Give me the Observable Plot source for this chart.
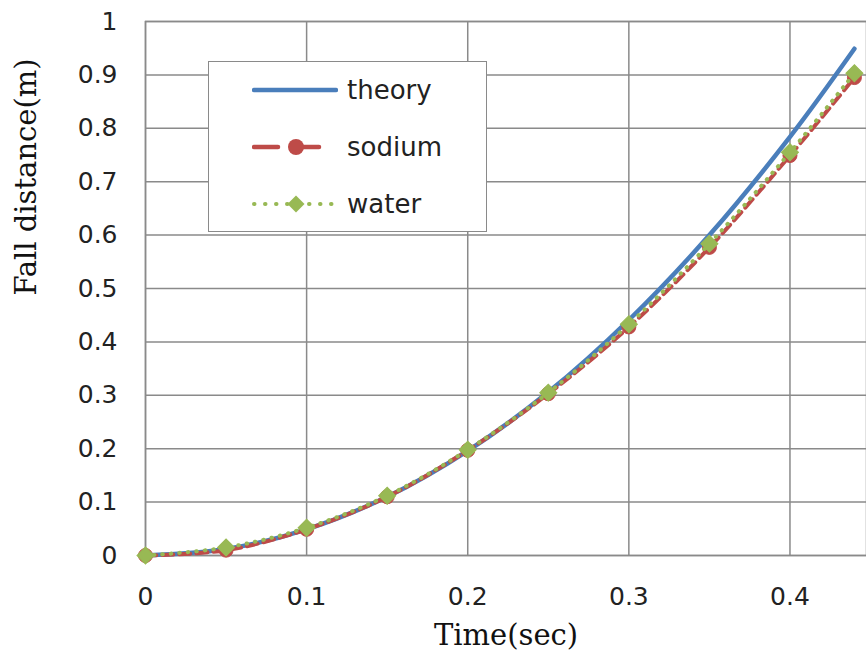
<!DOCTYPE html>
<html>
<head>
<meta charset="utf-8">
<script src="https://cdn.jsdelivr.net/npm/d3@7"></script>
<script src="https://cdn.jsdelivr.net/npm/@observablehq/plot@0.6"></script>
<style>
  html, body { margin: 0; padding: 0; background: #fff; overflow: hidden; }
  #wrap { position: relative; width: 866px; height: 665px; }
  #legend {
    position: absolute; left: 208px; top: 61px; width: 277px; height: 169px;
    background: #fff; border: 1.5px solid #8a8a8a;
    font-family: "DejaVu Sans", sans-serif; font-size: 26px; color: #222;
  }
  #legend .row { position: absolute; left: 0; height: 40px; display: flex; align-items: center; }
  #legend svg { margin-left: 43px; margin-right: 9px; }
</style>
</head>
<body>
<div id="wrap"><div id="chart"></div><div id="legend"></div></div>
<script>
// ---- data ----
const times  = [0, 0.05, 0.1, 0.15, 0.2, 0.25, 0.3, 0.35, 0.4, 0.44];
const theory = [0, 0.012, 0.049, 0.110, 0.196, 0.306, 0.441, 0.600, 0.784, 0.949];
const sodium = [0, 0.010, 0.049, 0.110, 0.197, 0.303, 0.428, 0.577, 0.749, 0.895];
const water  = [0, 0.015, 0.052, 0.112, 0.198, 0.305, 0.433, 0.584, 0.755, 0.903];
const seriesNames = ["theory", "sodium", "water"];
const xTicks = [0, 0.1, 0.2, 0.3, 0.4];
const yTicks = [0, 0.1, 0.2, 0.3, 0.4, 0.5, 0.6, 0.7, 0.8, 0.9, 1];
const xTitle = "Time(sec)";
const yTitle = "Fall distance(m)";

const colors = { theory: "#4A7EBB", sodium: "#BE4B48", water: "#98B954" };

const rows = (vals) => times.map((t, i) => ({ t, v: vals[i] }));
const theoryData = rows(theory);
const sodiumData = rows(sodium);
const waterData = rows(water);

const serif = "'DejaVu Serif', 'Liberation Serif', serif";

const chart = Plot.plot({
  width: 866,
  height: 665,
  marginTop: 21,
  marginLeft: 145,
  marginRight: 0,
  marginBottom: 110,
  style: { fontFamily: "'DejaVu Sans', sans-serif", fontSize: "25px", color: "#222", background: "#fff", overflow: "visible" },
  x: { domain: [0, 0.4475] },
  y: { domain: [0, 1] },
  marks: [
    Plot.gridX(xTicks, { stroke: "#8a8a8a", strokeOpacity: 1, strokeWidth: 1.5 }),
    Plot.gridY(yTicks, { stroke: "#8a8a8a", strokeOpacity: 1, strokeWidth: 1.5 }),
    Plot.frame({ stroke: "#8a8a8a", strokeWidth: 1.5 }),
    Plot.axisX({ ticks: xTicks, tickSize: 0, tickPadding: 32, label: null, tickFormat: d => String(d) }),
    Plot.axisY({ ticks: yTicks, tickSize: 0, tickPadding: 28, label: null, tickFormat: d => String(d) }),
    Plot.text([xTitle], { frameAnchor: "bottom", dy: 89, fontFamily: serif, fontSize: 29, fill: "#111", text: d => d }),
    Plot.text([yTitle], { frameAnchor: "left", dx: -119, dy: 7, rotate: -90, fontFamily: serif, fontSize: 29, fill: "#111", text: d => d }),
    Plot.line(theoryData, { x: "t", y: "v", stroke: colors.theory, strokeWidth: 4.5, curve: "catmull-rom" }),
    Plot.line(sodiumData, { x: "t", y: "v", stroke: colors.sodium, strokeWidth: 4, strokeDasharray: "11,6", curve: "catmull-rom" }),
    Plot.dot(sodiumData, { x: "t", y: "v", r: 7, fill: colors.sodium, stroke: colors.sodium, strokeWidth: 1 }),
    Plot.line(waterData, { x: "t", y: "v", stroke: colors.water, strokeWidth: 4, strokeDasharray: "0.5,8", strokeLinecap: "round", curve: "catmull-rom" }),
    Plot.dot(waterData, { x: "t", y: "v", symbol: "square", r: 6.8, rotate: 45, fill: colors.water, stroke: colors.water, strokeWidth: 1 })
  ]
});
document.getElementById("chart").appendChild(chart);

// ---- legend ----
const legend = document.getElementById("legend");
const rowTops = [8, 65, 122];
seriesNames.forEach((name, i) => {
  const row = document.createElement("div");
  row.className = "row";
  row.style.top = rowTops[i] + "px";
  const c = colors[name];
  let sw = "";
  if (name === "theory") {
    sw = `<line x1="2" y1="20" x2="84" y2="20" stroke="${c}" stroke-width="4.5" stroke-linecap="round"/>`;
  } else if (name === "sodium") {
    sw = `<line x1="2" y1="20" x2="26" y2="20" stroke="${c}" stroke-width="4.5" stroke-linecap="round"/>
          <line x1="44" y1="20" x2="67" y2="20" stroke="${c}" stroke-width="4.5" stroke-linecap="round"/>
          <circle cx="44" cy="20" r="8" fill="${c}"/>`;
  } else {
    sw = `<line x1="2" y1="20" x2="82" y2="20" stroke="${c}" stroke-width="4" stroke-dasharray="0.5,10.5" stroke-linecap="round"/>
          <rect x="38" y="14" width="12" height="12" fill="${c}" transform="rotate(45 44 20)"/>`;
  }
  row.innerHTML = `<svg width="86" height="40">${sw}</svg><span>${name}</span>`;
  legend.appendChild(row);
});
</script>
</body>
</html>
